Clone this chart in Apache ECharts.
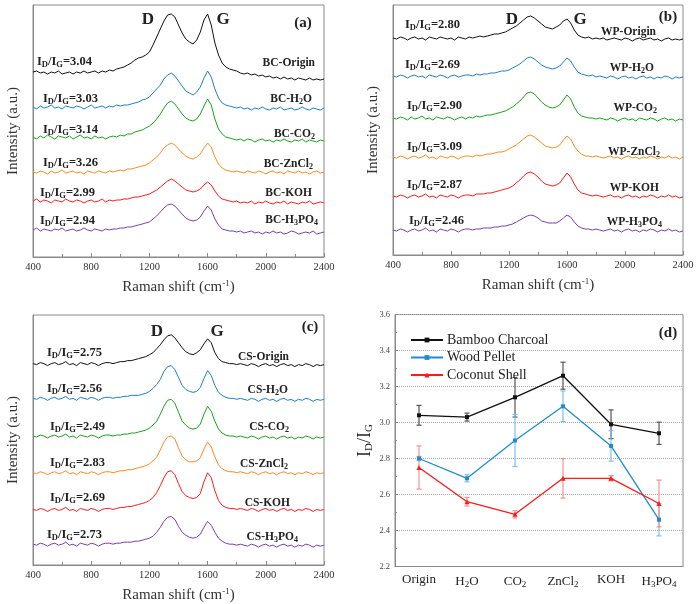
<!DOCTYPE html>
<html><head><meta charset="utf-8">
<script src="https://cdn.jsdelivr.net/npm/echarts@6/dist/echarts.min.js"></script>
<style>html,body{margin:0;padding:0;background:#fff}#c{width:700px;height:604px}</style>
</head><body><div id="c"></div>
<script>
// ---------- DATA ----------
const shifts = [400,425,450,475,500,525,550,575,600,625,650,675,700,725,750,775,800,825,850,875,900,925,950,975,1000,1025,1050,1075,1100,1125,1150,1175,1200,1225,1250,1275,1300,1325,1350,1375,1400,1425,1450,1475,1500,1525,1550,1575,1600,1625,1650,1675,1700,1725,1750,1775,1800,1825,1850,1875,1900,1925,1950,1975,2000,2025,2050,2075,2100,2125,2150,2175,2200,2225,2250,2275,2300,2325,2350,2375,2400];
const xTicks = [400,800,1200,1600,2000,2400];

// panel (a) Bamboo charcoal spectra (offset intensity, a.u.)
const bcOrigin = [185,186,184,185,183,185,184,186,183,184,185,183,185,184,186,184,185,186,184,186,185,
 187,186,188,189,190,192,194,197,199,200,202,205,212,220,228,236,242,243,240,232,224,218,215,213,217,225,237,243,232,214,202,194,190,188,187,186,184,
 183,184,182,183,181,182,180,181,179,180,178,180,178,179,177,179,178,177,179,177,178,177,178];
const bcH2O = [150,148,151,149,150,152,149,150,148,151,150,149,151,150,148,150,152,149,150,151,149,
 151,150,152,151,152,152,153,154,155,157,158,160,164,168,172,178,182,184,181,176,171,166,164,162,165,170,179,186,180,168,159,154,152,151,150,149,150,
 148,149,147,149,148,150,148,147,149,148,150,147,148,149,147,148,150,148,147,149,148,147,149];
const bcCO2 = [120,118,121,119,122,120,118,121,120,119,121,118,120,122,119,120,118,121,119,120,118,
 120,121,120,122,121,123,123,125,126,127,129,131,134,138,143,149,154,156,153,148,143,139,137,136,138,143,151,158,152,138,128,123,120,119,118,117,118,
 116,118,117,115,117,118,116,117,115,117,116,118,116,115,117,116,118,115,117,116,115,117,116];
const bcZnCl2 = [85,84,86,85,83,86,84,85,87,84,85,86,84,85,83,86,85,84,86,85,84,
 86,85,86,87,86,88,88,89,90,91,92,94,97,100,104,109,112,114,112,108,104,101,99,98,100,103,109,114,110,100,93,89,87,86,85,86,85,
 84,86,85,84,86,85,83,85,86,84,85,83,86,85,84,86,84,85,83,85,86,84,85];
const bcKOH = [56,58,55,57,56,54,57,56,55,58,56,55,57,56,54,56,57,55,56,58,55,
 57,56,57,57,58,58,59,60,60,61,62,63,65,67,70,73,76,78,76,73,70,67,66,65,66,68,72,75,72,66,61,58,57,56,55,56,54,
 55,54,56,53,55,54,56,54,53,55,54,56,53,55,54,53,55,54,56,53,54,55,54];
const bcH3PO4 = [27,29,26,28,27,26,28,27,29,26,27,28,26,27,29,27,26,28,27,26,28,
 27,28,28,29,29,30,30,31,32,33,34,35,38,41,45,49,52,53,51,47,43,39,37,36,37,40,46,51,47,38,32,28,27,26,26,25,26,
 24,25,26,24,25,23,25,24,26,24,25,23,24,26,25,23,24,25,24,26,23,24,25];

// panel (b) Wood pellet spectra
const wpOrigin = [217,216,218,217,215,217,218,216,217,215,218,217,216,218,217,216,217,215,218,217,216,
 218,217,218,219,218,219,220,221,221,222,223,225,227,229,232,235,238,239,237,234,231,228,227,226,228,230,234,236,232,225,220,218,217,218,216,217,216,
 217,215,216,217,216,215,217,216,214,216,217,215,216,217,215,216,214,216,217,215,216,215,216];
const wpH2O = [179,178,180,179,177,179,180,178,179,177,180,179,178,180,179,177,179,180,178,179,180,
 180,179,181,180,181,181,182,182,183,184,184,185,187,189,191,194,197,198,196,193,190,188,187,186,187,189,193,197,194,188,183,181,180,179,180,178,179,
 178,177,179,178,176,178,179,177,178,176,178,179,177,178,176,178,177,179,178,176,178,177,178];
const wpCO2 = [137,136,138,137,135,138,136,137,139,136,137,135,138,137,136,138,137,135,137,138,136,
 138,137,139,138,139,140,140,141,142,143,144,146,148,151,154,158,162,163,161,157,153,150,148,147,148,150,155,160,156,148,142,139,138,137,137,136,137,
 136,135,137,136,134,136,137,135,136,134,137,136,135,137,136,134,136,137,135,136,134,136,135];
const wpZnCl2 = [98,97,99,98,96,98,99,97,98,100,97,98,96,99,98,97,99,98,96,98,99,
 99,98,100,99,100,101,101,102,103,103,104,106,108,110,113,116,119,120,118,115,112,109,108,107,108,110,115,119,116,109,104,101,99,99,98,99,98,
 97,98,99,97,98,96,98,99,97,98,96,98,97,99,98,96,98,97,99,97,98,96,98];
const wpKOH = [59,58,60,59,57,59,60,58,59,61,58,59,57,60,59,58,60,59,57,59,60,
 60,59,61,61,61,62,62,63,64,65,66,67,69,72,75,79,82,83,81,78,74,71,70,69,70,72,77,82,78,71,65,62,61,60,59,60,59,
 58,59,60,58,59,57,59,60,58,59,57,59,58,60,59,57,59,58,60,58,59,57,58];
const wpH3PO4 = [25,24,26,25,23,25,26,24,25,27,24,25,23,26,25,24,26,25,23,25,26,
 26,25,26,26,27,27,27,28,28,29,29,30,31,33,35,37,39,40,39,37,34,33,32,32,32,34,37,40,38,33,29,27,26,26,25,26,25,
 24,25,26,24,25,23,25,26,24,25,23,25,24,26,25,23,25,24,26,24,25,23,24];

// panel (c) Coconut shell spectra
const csOrigin = [203,202,204,203,201,203,204,202,203,205,202,203,201,204,203,202,204,203,201,203,204,
 204,203,204,205,205,206,206,207,208,209,210,212,214,218,222,227,231,232,229,224,219,215,213,212,214,217,223,228,224,214,208,205,204,203,203,202,203,
 202,201,203,202,200,202,203,201,202,200,202,203,201,202,200,202,201,203,202,200,202,201,202];
const csH2O = [168,167,169,168,166,168,169,167,168,170,167,168,166,169,168,167,169,168,166,168,169,
 169,168,169,169,170,170,171,171,171,172,173,175,178,182,187,195,200,201,197,189,181,177,175,174,175,179,188,196,191,181,174,171,169,168,168,167,168,
 167,166,168,167,165,167,168,166,167,165,167,168,166,167,165,167,166,168,167,165,167,166,167];
const csCO2 = [130,129,131,130,128,130,131,129,130,132,129,130,128,131,130,129,131,130,128,130,131,
 131,130,131,131,132,132,133,133,134,135,136,138,141,145,152,160,166,167,163,154,145,141,138,137,138,142,152,160,155,145,137,133,131,130,130,129,130,
 129,128,130,129,127,129,130,128,129,127,129,130,128,129,127,129,128,130,129,127,129,128,129];
const csZnCl2 = [93,92,94,93,91,93,94,92,93,95,92,93,91,94,93,92,94,93,91,93,94,
 94,93,94,95,95,96,96,97,98,99,100,102,105,109,116,124,129,130,127,118,110,106,104,104,105,108,117,124,119,109,101,97,95,94,94,93,94,
 93,92,94,93,91,93,94,92,93,91,93,94,92,93,91,93,92,94,93,91,93,92,93];
const csKOH = [56,55,57,56,54,56,57,55,56,58,55,56,54,57,56,55,57,56,54,56,57,
 57,56,57,58,58,59,59,60,61,62,63,65,68,73,80,88,94,95,91,82,74,70,68,67,68,72,84,93,88,75,65,60,58,57,57,56,57,
 56,55,57,56,54,56,57,55,56,54,56,57,55,56,54,56,55,57,56,54,56,55,56];
const csH3PO4 = [21,20,22,21,19,21,22,20,21,23,20,21,19,22,21,20,22,21,19,21,22,
 22,21,22,22,23,23,23,24,24,25,26,27,29,33,38,44,48,49,46,39,33,30,28,27,28,31,38,44,40,33,27,24,22,21,21,20,21,
 20,19,21,20,18,20,21,19,20,18,20,21,19,20,18,20,19,21,20,18,20,19,20];

// labels of ID/IG in panels a-c
const treatments = ['Origin','H2O','CO2','ZnCl2','KOH','H3PO4'];
const bcRatioLbl = ['3.04','3.03','3.14','3.26','2.99','2.94'];
const wpRatioLbl = ['2.80','2.69','2.90','3.09','2.87','2.46'];
const csRatioLbl = ['2.75','2.56','2.49','2.83','2.69','2.73'];

// panel (d)
const dTicks = [2.2,2.4,2.6,2.8,3.0,3.2,3.4,3.6];
const bcRatio = [3.04,3.03,3.14,3.26,2.99,2.94];
const bcErr   = [0.055,0.022,0.11,0.075,0.08,0.062];
const wpRatio = [2.80,2.69,2.90,3.09,2.87,2.46];
const wpErr   = [0.012,0.02,0.145,0.085,0.085,0.09];
const csRatio = [2.75,2.56,2.49,2.69,2.69,2.55];
const csErr   = [0.12,0.024,0.02,0.11,0.015,0.13];

// ---------- STYLE / LAYOUT ----------
const SERIF = '"Liberation Serif","DejaVu Serif",serif';
const specColors = ['#111111','#1f7fc4','#1aa31a','#ff8a1e','#ff1a1a','#7a3fb0'];
const panels = [
  {grid:{left:33,top:5,width:291,height:252}, ymax:252, prefix:'BC', curves:[bcOrigin,bcH2O,bcCO2,bcZnCl2,bcKOH,bcH3PO4], ratios:bcRatioLbl,
   lpos:[[37,62],[43,99],[43,130],[43,163],[40,193],[40,221]], rpos:[[315,63],[312,99],[315,134],[313,164],[312,193],[318,220]],
   D:[148,20], G:[223,20], tag:'(a)', tpos:[303,23]},
  {grid:{left:393,top:5,width:290,height:250}, ymax:250, prefix:'WP', curves:[wpOrigin,wpH2O,wpCO2,wpZnCl2,wpKOH,wpH3PO4], ratios:wpRatioLbl,
   lpos:[[405,25],[405,65],[407,106],[407,147],[407,185],[409,221]], rpos:[[656,32],[654,68],[657,108],[660,152],[659,188],[662,222]],
   D:[512,20], G:[580,20], tag:'(b)', tpos:[668,17]},
  {grid:{left:33,top:315,width:291,height:252}, ymax:252, prefix:'CS', curves:[csOrigin,csH2O,csCO2,csZnCl2,csKOH,csH3PO4], ratios:csRatioLbl,
   lpos:[[47,353],[47,389],[50,427],[50,463],[50,498],[47,535]], rpos:[[289,357],[288,390],[289,427],[288,464],[290,503],[298,537]],
   D:[157,332], G:[217,332], tag:'(c)', tpos:[310,327]}
];
const subify = s => s.replace(/(\d)/g, '{s|$1}');
const richSub = (size) => ({ s:{ fontSize:size, fontFamily:SERIF, fontWeight:'bold', padding:[Math.round(size*0.7),0,0,0], fill:'#222'} });

const grids = [], xAxes = [], yAxes = [], series = [], graphics = [];
panels.forEach((p, k) => {
  grids.push(Object.assign({show:true, borderColor:'#8a8a8a', borderWidth:1}, p.grid));
  xAxes.push({type:'value', gridIndex:k, min:xTicks[0], max:xTicks[xTicks.length-1], interval:xTicks[1]-xTicks[0],
    axisLine:{show:true, lineStyle:{color:'#8a8a8a'}}, axisTick:{show:true, inside:true, length:4, lineStyle:{color:'#8a8a8a'}},
    minorTick:{show:true, splitNumber:2, length:3, lineStyle:{color:'#8a8a8a'}}, splitLine:{show:false},
    axisLabel:{fontFamily:SERIF, fontSize:10.5, color:'#333', margin:5, formatter: v => String(v)},
    name:'Raman shift (cm{sup|-1})', nameLocation:'middle', nameGap:22,
    nameTextStyle:{fontFamily:SERIF, fontSize:15, color:'#333', rich:{sup:{fontFamily:SERIF, fontSize:9, color:'#333', padding:[0,0,8,0]}}}});
  yAxes.push({type:'value', gridIndex:k, min:0, max:p.ymax, axisLine:{show:true, lineStyle:{color:'#8a8a8a'}}, axisTick:{show:false},
    axisLabel:{show:false}, splitLine:{show:false},
    name:'Intensity (a.u.)', nameLocation:'middle', nameGap:12, nameTextStyle:{fontFamily:SERIF, fontSize:15, color:'#333'}});
  p.curves.forEach((vals, j) => {
    series.push({type:'line', xAxisIndex:k, yAxisIndex:k, symbol:'none', silent:true, animation:false,
      lineStyle:{width:1, color:specColors[j]}, data: shifts.map((x,i)=>[x, vals[i]])});
  });
  p.ratios.forEach((r, j) => {
    graphics.push({type:'text', x:p.lpos[j][0], y:p.lpos[j][1], silent:true,
      style:{text:'I{s|D}/I{s|G}=' + r, font:'bold 12.5px ' + SERIF, fill:'#222', align:'left', verticalAlign:'middle', rich:richSub(8.5)}});
    graphics.push({type:'text', x:p.rpos[j][0], y:p.rpos[j][1], silent:true,
      style:{text:subify(p.prefix + '-' + treatments[j]), font:'bold 11.5px ' + SERIF, fill:'#222', align:'right', verticalAlign:'middle', rich:richSub(8)}});
  });
  graphics.push({type:'text', x:p.D[0], y:p.D[1], silent:true, style:{text:'D', font:'bold 17px '+SERIF, fill:'#222', align:'center', verticalAlign:'middle'}});
  graphics.push({type:'text', x:p.G[0], y:p.G[1], silent:true, style:{text:'G', font:'bold 17px '+SERIF, fill:'#222', align:'center', verticalAlign:'middle'}});
  graphics.push({type:'text', x:p.tpos[0], y:p.tpos[1], silent:true, style:{text:p.tag, font:'bold 15px '+SERIF, fill:'#222', align:'center', verticalAlign:'middle'}});
});

// panel (d)
grids.push({left:395, top:314.5, width:288, height:252, show:true, borderColor:'#8a8a8a', borderWidth:1});
xAxes.push({type:'category', gridIndex:3, data:treatments, boundaryGap:true,
  axisLine:{lineStyle:{color:'#8a8a8a'}}, axisTick:{show:false},
  axisLabel:{interval:0, fontFamily:SERIF, fontSize:13, color:'#222', margin:7, formatter: v => subify(v),
    rich:{s:{fontFamily:SERIF, fontSize:9, color:'#222', padding:[7,0,0,0]}}}});
yAxes.push({type:'value', gridIndex:3, min:dTicks[0], max:dTicks[dTicks.length-1], interval:0.2,
  axisLine:{show:true, lineStyle:{color:'#8a8a8a'}}, axisTick:{show:true, inside:true, length:3, lineStyle:{color:'#8a8a8a'}},
  minorTick:{show:true, splitNumber:2, length:2, lineStyle:{color:'#8a8a8a'}},
  splitLine:{show:true, lineStyle:{type:'dotted', color:'#aaaaaa', width:1}},
  axisLabel:{fontFamily:SERIF, fontSize:8.5, color:'#444', margin:5, formatter: v => v.toFixed(1)},
  name:'I{s|D}/I{s|G}', nameLocation:'middle', nameGap:20, nameRotate:90,
  nameTextStyle:{fontFamily:SERIF, fontSize:18, color:'#222', rich:{s:{fontFamily:SERIF, fontSize:11, color:'#222', padding:[9,0,0,0]}}}});

const dSets = [
  {name:'Bamboo Charcoal', vals:bcRatio, err:bcErr, color:'#111111', errColor:'#555555', symbol:'rect'},
  {name:'Wood Pellet', vals:wpRatio, err:wpErr, color:'#1f8bd0', errColor:'#7cc0e8', symbol:'rect'},
  {name:'Coconut Shell', vals:csRatio, err:csErr, color:'#ff1a1a', errColor:'#f59090', symbol:'triangle'}
];
dSets.forEach(d => {
  series.push({type:'custom', xAxisIndex:3, yAxisIndex:3, silent:true, z:1, animation:false,
    data: d.vals.map((v,i)=>[i, v, d.err[i]]),
    renderItem:(params, api) => {
      const x = api.value(0), y = api.value(1), e = api.value(2);
      const hi = api.coord([x, y + e]), lo = api.coord([x, y - e]);
      const w = 2.5, st = {stroke:d.errColor, lineWidth:1.2};
      return {type:'group', children:[
        {type:'line', shape:{x1:hi[0], y1:hi[1], x2:lo[0], y2:lo[1]}, style:st},
        {type:'line', shape:{x1:hi[0]-w, y1:hi[1], x2:hi[0]+w, y2:hi[1]}, style:st},
        {type:'line', shape:{x1:lo[0]-w, y1:lo[1], x2:lo[0]+w, y2:lo[1]}, style:st}
      ]};
    }});
});
dSets.forEach(d => {
  series.push({type:'line', name:d.name, xAxisIndex:3, yAxisIndex:3, z:3, animation:false,
    symbol:d.symbol, symbolSize:d.symbol === 'triangle' ? 5 : 4, showSymbol:true,
    itemStyle:{color:d.color}, lineStyle:{color:d.color, width:1.3}, data:d.vals});
});
graphics.push({type:'text', x:668, y:333, silent:true, style:{text:'(d)', font:'bold 15px '+SERIF, fill:'#222', align:'center', verticalAlign:'middle'}});

const chart = echarts.init(document.getElementById('c'), null, {renderer:'canvas'});
chart.setOption({
  animation:false,
  backgroundColor:'#ffffff',
  grid:grids, xAxis:xAxes, yAxis:yAxes, series:series, graphic:graphics,
  legend:{data:dSets.map(d=>d.name), orient:'vertical', left:405, top:328, itemWidth:32, itemHeight:6, itemGap:3.5,
    textStyle:{fontFamily:SERIF, fontSize:14, color:'#222', padding:[0,0,0,-1]}, selectedMode:false}
});
</script></body></html>
